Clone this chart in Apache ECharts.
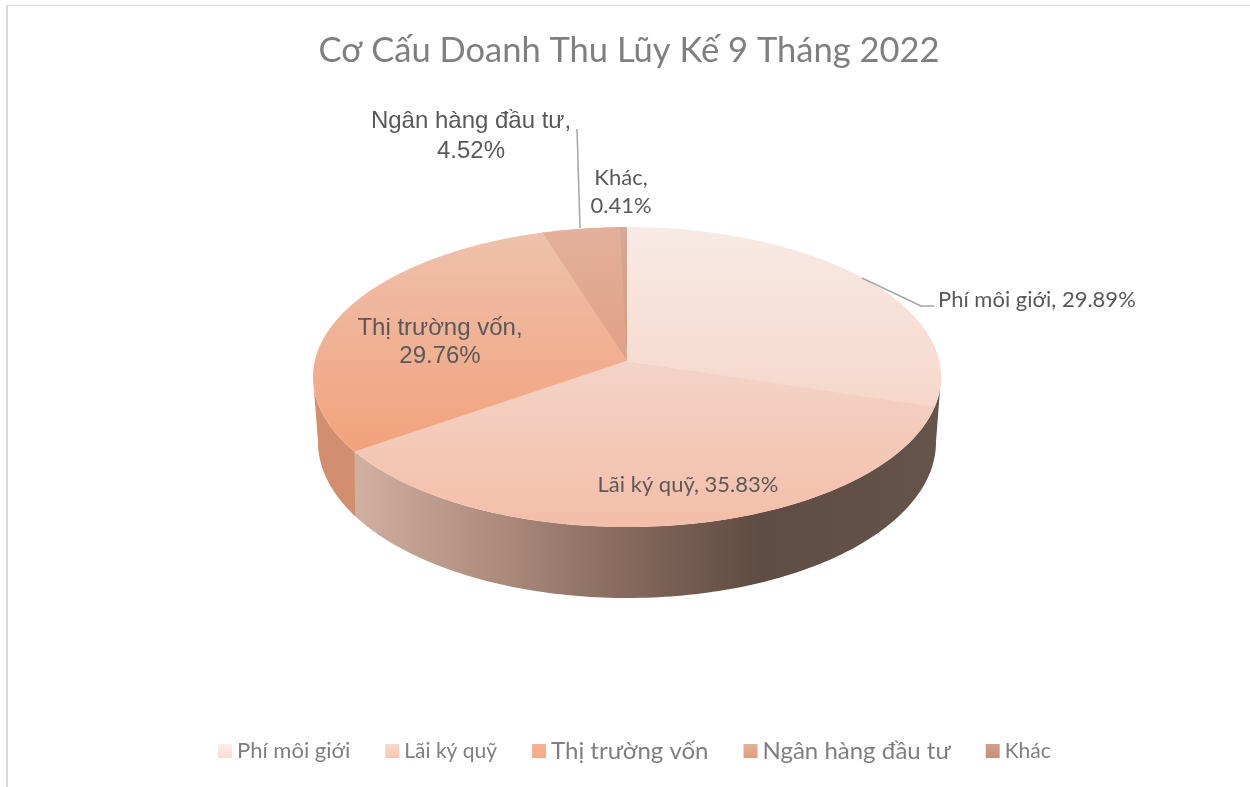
<!DOCTYPE html>
<html>
<head>
<meta charset="utf-8">
<title>Cơ Cấu Doanh Thu</title>
<script src="https://cdn.jsdelivr.net/npm/echarts@6/dist/echarts.min.js"></script>
<style>
  html, body { margin: 0; padding: 0; background: #fff; }
  #main { width: 1250px; height: 787px; }
</style>
</head>
<body>
<div id="main"></div>
<script>
const categories = ['Phí môi giới', 'Lãi ký quỹ', 'Thị trường vốn', 'Ngân hàng đầu tư', 'Khác']
const shares = [29.89, 35.83, 29.76, 4.52, 0.41]

const calibri = 'Lato, "Noto Sans", sans-serif'
const arial = '"Liberation Sans", Arial, sans-serif'

// mat tren va mat duoi cua banh (elip, tam banh lech len tren do phoi canh)
const topFace = { cx: 627, ey: 377, ay: 361, rx: 314, ry: 150 }
const lowFace = { cx: 627, ey: 442, ay: 426, rx: 309, ry: 156 }
const flatten = 0.485
const wallFrom = 96
const wallTo = 264

const total = shares.reduce((a, b) => a + b, 0)
const starts = []
shares.reduce((sum, v, i) => { starts[i] = sum / total * 360; return sum + v }, 0)

function rimPoint (f, deg) {
  const r = deg * Math.PI / 180
  const dx = Math.sin(r)
  const dy = -Math.cos(r) * flatten
  const off = f.ay - f.ey
  const a = dx * dx / (f.rx * f.rx) + dy * dy / (f.ry * f.ry)
  const b = 2 * dy * off / (f.ry * f.ry)
  const c = off * off / (f.ry * f.ry) - 1
  const t = (-b + Math.sqrt(b * b - 4 * a * c)) / (2 * a)
  return [f.cx + t * dx, f.ay + t * dy]
}

function arc (f, from, to) {
  const pts = []
  const n = Math.max(2, Math.ceil(Math.abs(to - from)))
  for (let i = 0; i <= n; i++) pts.push(rimPoint(f, from + (to - from) * i / n))
  return pts
}

function vGrad (a, b) {
  return new echarts.graphic.LinearGradient(0, 0, 0, 1, [{ offset: 0, color: a }, { offset: 1, color: b }])
}

const faceColors = [
  vGrad('#f8eae5', '#f6d7ca'),
  vGrad('#f3d4c8', '#f4bea8'),
  vGrad('#efc1ac', '#f2a27c'),
  vGrad('#e4b09c', '#dfa085'),
  vGrad('#d6a897', '#cf9a85')
]
const legendColors = [
  vGrad('#fbeee9', '#f9ddd1'),
  vGrad('#f8d8cc', '#fbc4ae'),
  vGrad('#f5b294', '#f8a981'),
  vGrad('#e5b09b', '#df9c7d'),
  vGrad('#d0a08f', '#c98f78')
]
const wallColors = [
  '#65544b',
  new echarts.graphic.LinearGradient(0, 0, 1, 0, [
    { offset: 0, color: '#d2b1a3' },
    { offset: 0.28, color: '#a88779' },
    { offset: 0.52, color: '#7d6255' },
    { offset: 0.7, color: '#5f4c42' },
    { offset: 1, color: '#65544b' }
  ]),
  '#d18f6f',
  '#d18f6f',
  '#d18f6f'
]

const labelStyles = [
  { x: 938, y: 300, align: 'left', font: '22px ' + calibri, oneLine: true, leader: [[862, 278], [921, 306], [934, 306]] },
  { x: 688, y: 485, align: 'center', font: '22px ' + calibri, oneLine: true },
  { x: 440, y: 342, align: 'center', font: '24px ' + arial, lineHeight: 28 },
  { x: 471, y: 136, align: 'center', font: '24px ' + arial, lineHeight: 30, leader: [[577, 129], [580, 228]] },
  { x: 621, y: 192, align: 'center', font: '22px ' + calibri, lineHeight: 28 }
]

function makeRenderItem (idx) {
  return function (params, api) {
    const share = api.value(0)
    const from = starts[idx]
    const to = from + share / total * 360
    const children = []

    // moi mieng ve lan sang mieng sau mot chut de khong ho vien trang
    const wa = Math.max(from, wallFrom)
    const wb = Math.min(to + 1, wallTo)
    if (wb > wa) {
      children.push({
        type: 'polygon',
        shape: { points: arc(topFace, wa, wb).concat(arc(lowFace, wb, wa)) },
        style: { fill: wallColors[idx] }
      })
    }

    children.push({
      type: 'polygon',
      shape: { points: [[topFace.cx, topFace.ay]].concat(arc(topFace, from, idx < 4 ? to + 0.3 : to)) },
      style: { fill: faceColors[idx] }
    })

    const ls = labelStyles[idx]
    if (ls.leader) {
      children.push({
        type: 'polyline',
        shape: { points: ls.leader },
        style: { stroke: '#a6a6a6', lineWidth: 1.5, fill: null }
      })
    }
    children.push({
      type: 'text',
      style: {
        text: categories[idx] + (ls.oneLine ? ', ' : ',\n') + share.toFixed(2) + '%',
        x: ls.x,
        y: ls.y,
        textAlign: ls.align,
        textVerticalAlign: 'middle',
        font: ls.font,
        lineHeight: ls.lineHeight,
        fill: '#595959'
      }
    })
    return { type: 'group', children: children }
  }
}

const legendSizes = [22, 21, 24, 24, 21]

const chart = echarts.init(document.getElementById('main'))
chart.setOption({
  backgroundColor: '#fff',
  animation: false,
  title: {
    text: 'Cơ Cấu Doanh Thu Lũy Kế 9 Tháng 2022',
    left: 624,
    top: 28,
    textAlign: 'center',
    textStyle: { fontFamily: calibri, fontSize: 34.5, fontWeight: 'normal', color: '#7f7f7f' }
  },
  legend: {
    left: 213,
    top: 734,
    itemWidth: 14,
    itemHeight: 14,
    itemGap: 35,
    icon: 'rect',
    selectedMode: false,
    textStyle: { fontFamily: calibri, color: '#7f7f7f' },
    data: categories.map((name, i) => ({
      name: name,
      itemStyle: { color: legendColors[i] },
      textStyle: { fontSize: legendSizes[i], fontFamily: calibri, color: '#7f7f7f' }
    }))
  },
  graphic: [
    { type: 'rect', shape: { x: 6, y: 5, width: 2, height: 782 }, style: { fill: '#d9d9d9' } },
    { type: 'rect', shape: { x: 6, y: 5, width: 1244, height: 1 }, style: { fill: '#d9d9d9' } }
  ],
  series: categories.map((name, i) => ({
    name: name,
    type: 'custom',
    coordinateSystem: 'none',
    clip: false,
    itemStyle: { color: legendColors[i] },
    renderItem: makeRenderItem(i),
    data: [[shares[i]]]
  }))
})
</script>
</body>
</html>
